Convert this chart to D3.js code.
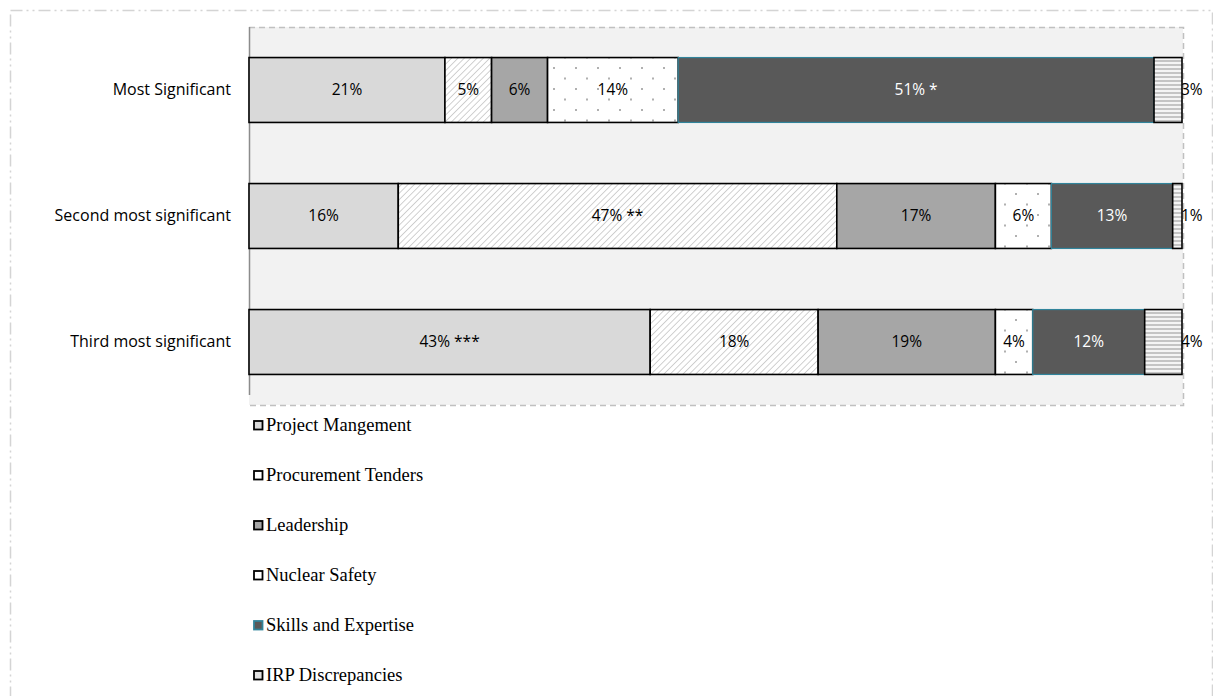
<!DOCTYPE html>
<html>
<head>
<meta charset="utf-8">
<script src="https://cdn.jsdelivr.net/npm/d3@7/dist/d3.min.js"></script>
<style>
  html, body { margin: 0; padding: 0; background: #fff; }
  svg { display: block; }
</style>
</head>
<body>
<svg id="chart" width="1213" height="696"></svg>
<script>
// Ranking categories (rows) and the six issue groups (stacked segments)
const rankings = ["Most Significant", "Second most significant", "Third most significant"];
const issues = ["Project Mangement", "Procurement Tenders", "Leadership", "Nuclear Safety", "Skills and Expertise", "IRP Discrepancies"];

// Share of respondents (%) per issue, one array per ranking row
const projectManagement = [21, 16, 43];
const procurementTenders = [5, 47, 18];
const leadership = [6, 17, 19];
const nuclearSafety = [14, 6, 4];
const skillsExpertise = [51, 13, 12];
const irpDiscrepancies = [3, 1, 4];

// Significance markers appended to certain labels
const labelSuffix = {
  "Most Significant|Skills and Expertise": " *",
  "Second most significant|Procurement Tenders": " **",
  "Third most significant|Project Mangement": " ***"
};

const seriesValues = [projectManagement, procurementTenders, leadership, nuclearSafety, skillsExpertise, irpDiscrepancies];

const rows = rankings.map((r, i) => {
  const o = { ranking: r };
  issues.forEach((k, j) => o[k] = seriesValues[j][i]);
  return o;
});

const svg = d3.select("#chart");
const W = 1213, H = 696;
const sansFont = "'Open Sans', 'Noto Sans', sans-serif";

// Patterns used by the hatched / dotted / striped segments
const defs = svg.append("defs");

const hatch = defs.append("pattern").attr("id", "hatch")
  .attr("patternUnits", "userSpaceOnUse").attr("width", 4.5).attr("height", 4.5)
  .attr("patternTransform", "rotate(45)");
hatch.append("rect").attr("width", 4.5).attr("height", 4.5).attr("fill", "#ffffff");
hatch.append("line").attr("x1", 0).attr("y1", 0).attr("x2", 0).attr("y2", 4.5)
  .attr("stroke", "#c6c6c6").attr("stroke-width", 1.6);

const dots = defs.append("pattern").attr("id", "dots")
  .attr("patternUnits", "userSpaceOnUse").attr("width", 22).attr("height", 21);
dots.append("rect").attr("width", 22).attr("height", 21).attr("fill", "#ffffff");
[[3, 4], [14, 14.5]].forEach(([cx, cy]) =>
  dots.append("rect").attr("x", cx).attr("y", cy).attr("width", 2).attr("height", 2).attr("fill", "#b0b0b0"));

const stripes = defs.append("pattern").attr("id", "stripes")
  .attr("patternUnits", "userSpaceOnUse").attr("width", 8).attr("height", 4);
stripes.append("rect").attr("width", 8).attr("height", 4).attr("fill", "#f4f4f4");
stripes.append("rect").attr("y", 0).attr("width", 8).attr("height", 2).attr("fill", "#c4c4c4");

const fills = {
  "Project Mangement": "#d9d9d9",
  "Procurement Tenders": "url(#hatch)",
  "Leadership": "#a6a6a6",
  "Nuclear Safety": "url(#dots)",
  "Skills and Expertise": "#595959",
  "IRP Discrepancies": "url(#stripes)"
};
const strokes = {
  "Project Mangement": "#000",
  "Procurement Tenders": "#000",
  "Leadership": "#000",
  "Nuclear Safety": "#000",
  "Skills and Expertise": "#31849b",
  "IRP Discrepancies": "#000"
};
const legendFills = {
  "Project Mangement": "#d9d9d9",
  "Procurement Tenders": "#ffffff",
  "Leadership": "#a6a6a6",
  "Nuclear Safety": "#ffffff",
  "Skills and Expertise": "#595959",
  "IRP Discrepancies": "#e0e0e0"
};

// Outer chart frame (dash-dot-dot)
svg.append("rect")
  .attr("x", 10.5).attr("y", 10.5).attr("width", W - 11).attr("height", H)
  .attr("fill", "none").attr("stroke", "#d4d4d4").attr("stroke-width", 1.5)
  .attr("stroke-dasharray", "12,4,2,4,2,4");

// Plot area
const plot = { left: 249, right: 1183, top: 27, bottom: 405 };

svg.append("rect")
  .attr("x", plot.left).attr("y", plot.top)
  .attr("width", plot.right - plot.left).attr("height", plot.bottom - plot.top)
  .attr("fill", "#f2f2f2");

const x = d3.scaleLinear().domain([0, 100]).range([plot.left, plot.right - 1]);
const y = d3.scaleBand().domain(rankings).range([plot.top, plot.bottom]).paddingInner(0.485).paddingOuter(0.2425);

// Dashed plot border (top, right, bottom)
const border = d3.path();
border.moveTo(plot.left, plot.top + 0.5);
border.lineTo(plot.right + 0.5, plot.top + 0.5);
border.lineTo(plot.right + 0.5, plot.bottom + 0.5);
border.lineTo(plot.left, plot.bottom + 0.5);
svg.append("path").attr("d", border.toString())
  .attr("fill", "none").attr("stroke", "#c0c0c0").attr("stroke-width", 1.5)
  .attr("stroke-dasharray", "6,4");

// Category axis
const yAxis = svg.append("g").attr("transform", `translate(${plot.left},0)`)
  .call(d3.axisLeft(y).tickSize(0).tickPadding(18));
yAxis.select(".domain").remove();
yAxis.append("line").attr("x1", 0.5).attr("x2", 0.5).attr("y1", plot.top).attr("y2", plot.bottom - 10)
  .attr("stroke", "#8c8c8c").attr("stroke-width", 1.5);
yAxis.selectAll("text")
  .attr("font-family", sansFont)
  .attr("font-size", 16).attr("fill", "#000");

const stacked = d3.stack().keys(issues)(rows);

// Labels of the last (thin) segment sit just past the bar end, under its outline
const outerLabels = svg.append("g").attr("font-family", sansFont).attr("font-size", 15.5);

// Stacked segments
const layers = svg.append("g").selectAll("g").data(stacked).join("g");

layers.selectAll("rect")
  .data(s => s.map(d => ({ key: s.key, d0: d[0], d1: d[1], ranking: d.data.ranking })))
  .join("rect")
  .attr("x", d => x(d.d0))
  .attr("y", d => y(d.ranking))
  .attr("width", d => x(d.d1) - x(d.d0))
  .attr("height", y.bandwidth())
  .attr("fill", d => fills[d.key])
  .attr("stroke", d => strokes[d.key])
  .attr("stroke-width", d => d.key === "Skills and Expertise" ? 1.2 : 1.6);

// Value labels
const labels = svg.append("g").attr("font-family", sansFont).attr("font-size", 15.5);

stacked.forEach(s => {
  s.forEach(d => {
    const key = s.key, ranking = d.data.ranking;
    const v = d[1] - d[0];
    const txt = v + "%" + (labelSuffix[ranking + "|" + key] || "");
    const last = key === "IRP Discrepancies";
    (last ? outerLabels : labels).append("text")
      .attr("x", last ? x(d[1]) - 1 : (x(d[0]) + x(d[1])) / 2)
      .attr("y", y(ranking) + y.bandwidth() / 2)
      .attr("dy", "0.35em")
      .attr("text-anchor", last ? "start" : "middle")
      .attr("fill", key === "Skills and Expertise" ? "#ffffff" : "#000")
      .text(txt);
  });
});

// Legend (one entry per line)
const legend = svg.append("g").attr("transform", "translate(253,425)");
const item = legend.selectAll("g").data(issues).join("g")
  .attr("transform", (d, i) => `translate(0,${i * 50})`);
item.append("rect")
  .attr("x", 1).attr("y", -4).attr("width", 8.5).attr("height", 8.5)
  .attr("fill", d => legendFills[d])
  .attr("stroke", d => d === "Skills and Expertise" ? "#31849b" : "#000")
  .attr("stroke-width", 1.8);
item.append("text")
  .attr("x", 13).attr("y", 0).attr("dy", "0.35em")
  .attr("font-family", "'Liberation Serif', 'Times New Roman', serif")
  .attr("font-size", 18.5).attr("fill", "#000")
  .text(d => d);
</script>
</body>
</html>
